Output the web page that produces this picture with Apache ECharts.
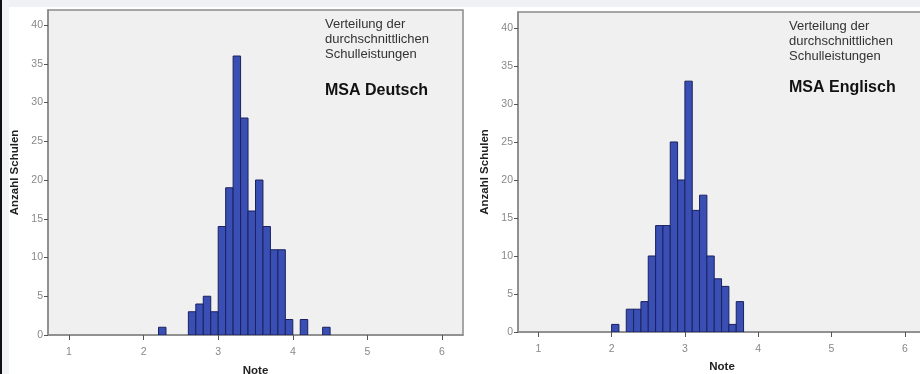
<!DOCTYPE html>
<html>
<head>
<meta charset="utf-8">
<script src="https://cdn.jsdelivr.net/npm/echarts@6/dist/echarts.min.js"></script>
<style>
html,body{margin:0;padding:0;background:#fff;}
#c{width:920px;height:374px;}
</style>
</head>
<body>
<div id="c"></div>
<script>
// ---- data ----
const binWidth = 0.1;
const deutschBinStarts = [2.2, 2.6, 2.7, 2.8, 2.9, 3.0, 3.1, 3.2, 3.3, 3.4, 3.5, 3.6, 3.7, 3.8, 3.9, 4.1, 4.4];
const deutschCounts    = [1,   3,   4,   5,   3,   14,  19,  36,  28,  16,  20,  14,  11,  11,  2,   2,   1];
const englischBinStarts = [2.0, 2.2, 2.3, 2.4, 2.5, 2.6, 2.7, 2.8, 2.9, 3.0, 3.1, 3.2, 3.3, 3.4, 3.5, 3.6, 3.7];
const englischCounts    = [1,   3,   3,   4,   10,  14,  14,  25,  20,  33,  16,  18,  10,  7,   6,   1,   4];
const xTickValues = [1, 2, 3, 4, 5, 6];
const yTickValues = [0, 5, 10, 15, 20, 25, 30, 35, 40];
const subtitleLines = ['Verteilung der', 'durchschnittlichen', 'Schulleistungen'];
const panelTitles = ['MSA Deutsch', 'MSA Englisch'];
const xAxisTitle = 'Note';
const yAxisTitle = 'Anzahl Schulen';

const FONT = '"Liberation Sans", Arial, sans-serif';
const chart = echarts.init(document.getElementById('c'), null, {renderer: 'canvas'});

function toData(starts, counts) {
  return starts.map((s, i) => [s, s + binWidth, counts[i]]);
}

function renderBar(params, api) {
  const p0 = api.coord([api.value(0), api.value(2)]);
  const p1 = api.coord([api.value(1), 0]);
  return {
    type: 'rect',
    shape: {x: p0[0], y: p0[1], width: p1[0] - p0[0], height: p1[1] - p0[1]},
    style: {fill: '#3a4fb3', stroke: '#1b2160', lineWidth: 1}
  };
}

const grids = [
  {left: 48, top: 10, width: 415, height: 325},
  {left: 518, top: 12, width: 408, height: 320}
];
const yMax = [41.94, 42.1];
const xMin = [0.7185, 0.723];
const xMax = [6.2815, 6.289];
const yNameGap = [27, 27];
const xNameGap = [30, 29];

const xAxes = [], yAxes = [], series = [];
[0, 1].forEach(i => {
  xAxes.push({
    gridIndex: i, type: 'value', min: xMin[i], max: xMax[i],
    name: xAxisTitle, nameLocation: 'middle', nameGap: xNameGap[i],
    nameTextStyle: {fontFamily: FONT, fontSize: 11.5, fontWeight: 'bold', color: '#222'},
    axisLine: {show: true, onZero: false, lineStyle: {color: '#8a8a8a', width: 1.5}},
    axisTick: {show: true, customValues: xTickValues, length: 5, inside: false, lineStyle: {color: '#555', width: 1}},
    axisLabel: {customValues: xTickValues, fontFamily: FONT, fontSize: 10.5, color: '#888', margin: 12},
    splitLine: {show: false}
  });
  yAxes.push({
    gridIndex: i, type: 'value', min: 0, max: yMax[i],
    name: yAxisTitle, nameLocation: 'middle', nameGap: yNameGap[i], nameRotate: 90,
    nameTextStyle: {fontFamily: FONT, fontSize: 11.5, fontWeight: 'bold', color: '#222'},
    axisLine: {show: true, lineStyle: {color: '#8a8a8a', width: 1.5}},
    axisTick: {show: true, customValues: yTickValues, length: 4, lineStyle: {color: '#555', width: 1}},
    axisLabel: {customValues: yTickValues, fontFamily: FONT, fontSize: 10.5, color: '#888', margin: 5},
    splitLine: {show: false}
  });
});
series.push({type: 'custom', xAxisIndex: 0, yAxisIndex: 0, renderItem: renderBar,
  data: toData(deutschBinStarts, deutschCounts), encode: {x: [0, 1], y: 2}, clip: true});
series.push({type: 'custom', xAxisIndex: 1, yAxisIndex: 1, renderItem: renderBar,
  data: toData(englischBinStarts, englischCounts), encode: {x: [0, 1], y: 2}, clip: true});

const textPos = [{x: 325, y: 17, ty: 83}, {x: 789, y: 19, ty: 80}];
const graphics = [
  {type: 'rect', left: 0, top: 0, shape: {width: 920, height: 7}, style: {fill: '#eff1f5'}, z: -10},
  {type: 'rect', left: 0, top: 0, shape: {width: 9, height: 374}, style: {fill: '#f2f3f7'}, z: -10},
  {type: 'rect', left: 0, top: 0, shape: {width: 2, height: 374}, style: {fill: '#111'}, z: -9}
];
[0, 1].forEach(i => {
  graphics.push({
    type: 'text', x: textPos[i].x, y: textPos[i].y, z: 10,
    style: {text: subtitleLines.join('\n'), fontFamily: FONT, fontSize: 13, lineHeight: 15, fill: '#333'}
  });
  graphics.push({
    type: 'text', x: textPos[i].x, y: textPos[i].ty, z: 10,
    style: {text: panelTitles[i], fontFamily: FONT, fontSize: 16, fontWeight: 'bold', fill: '#111'}
  });
});

chart.setOption({
  backgroundColor: '#ffffff',
  animation: false,
  grid: grids.map(g => Object.assign({show: true, containLabel: false, outerBoundsMode: 'none',
    backgroundColor: '#f0f0f0', borderColor: '#8a8a8a', borderWidth: 1.5}, g)),
  xAxis: xAxes,
  yAxis: yAxes,
  series: series,
  graphic: graphics
});
</script>
</body>
</html>
